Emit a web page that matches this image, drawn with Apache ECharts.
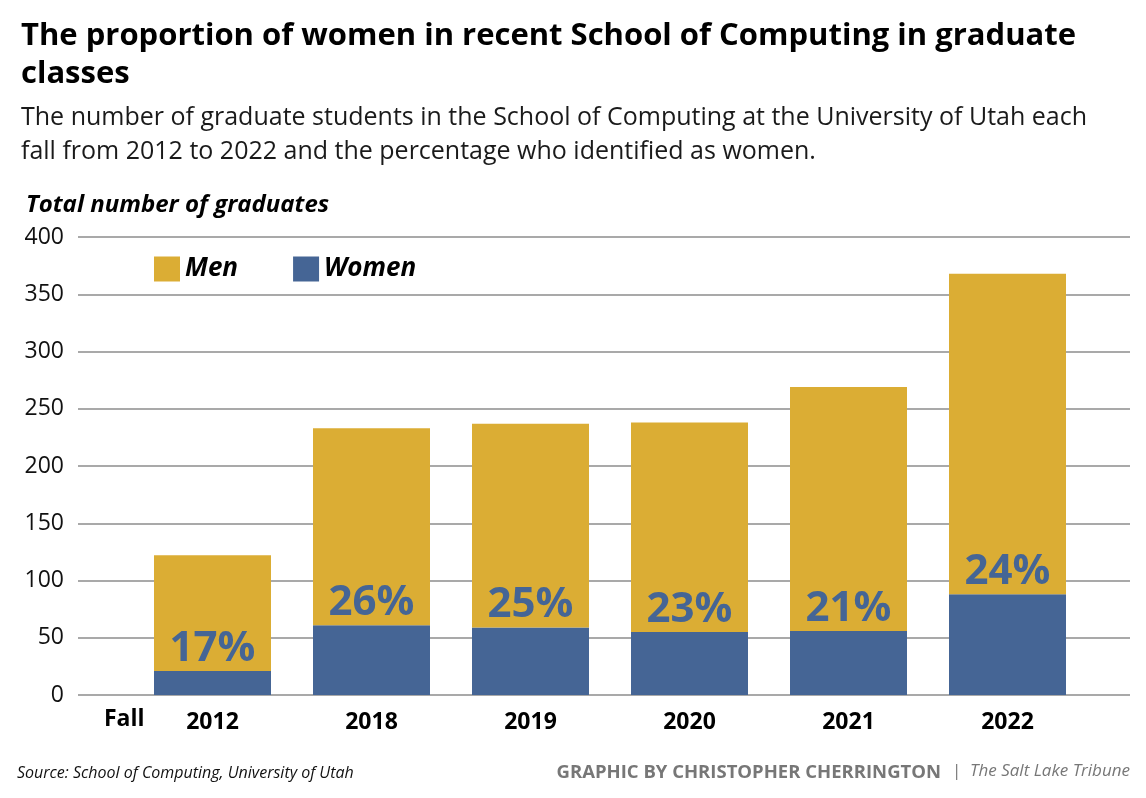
<!DOCTYPE html>
<html>
<head>
<meta charset="utf-8">
<script src="https://cdn.jsdelivr.net/npm/echarts@6/dist/echarts.min.js"></script>
<style>
html,body{margin:0;padding:0;background:#fff;}
#c{width:1146px;height:798px;}
</style>
</head>
<body>
<div id="c"></div>
<script>
const years = ['2012', '2018', '2019', '2020', '2021', '2022'];
const women = [21, 61, 59, 55, 56, 88];
const men = [101, 172, 178, 183, 213, 280];
const pctLabels = ['17%', '26%', '25%', '23%', '21%', '24%'];
const yTicks = [0, 50, 100, 150, 200, 250, 300, 350, 400];

const FONT = '"Open Sans", "Noto Sans", sans-serif';
const YELLOW = '#dbad34';
const BLUE = '#456595';

const chart = echarts.init(document.getElementById('c'), null, {renderer: 'canvas'});
chart.setOption({
  backgroundColor: '#ffffff',
  animation: false,
  title: [
    {text: 'The proportion of women in recent School of Computing in graduate\nclasses', left: 16, top: 12,
     textStyle: {fontFamily: FONT, fontSize: 31, fontWeight: 'bold', color: '#000', lineHeight: 38}},
    {text: 'The number of graduate students in the School of Computing at the University of Utah each\nfall from 2012 to 2022 and the percentage who identified as women.', left: 16, top: 96,
     textStyle: {fontFamily: FONT, fontSize: 25, fontWeight: 'normal', color: '#1a1a1a', lineHeight: 34}},
    {text: 'Total number of graduates', left: 21, top: 188,
     textStyle: {fontFamily: FONT, fontSize: 24, fontWeight: 'bold', fontStyle: 'italic', color: '#000'}}
  ],
  legend: {
    data: ['Men', 'Women'], left: 149, top: 251, itemWidth: 26, itemHeight: 25, itemGap: 55,
    icon: 'rect',
    textStyle: {fontFamily: FONT, fontSize: 26, fontWeight: 'bold', fontStyle: 'italic', color: '#000'}
  },
  grid: [
    {left: 78, right: 16, top: 237, bottom: 103},
    {left: 133, right: 59, top: 237, bottom: 103}
  ],
  xAxis: [
    {type: 'category', gridIndex: 0, data: years, show: false},
    {type: 'category', gridIndex: 1, data: years, axisLine: {show: false}, axisTick: {show: false},
     axisLabel: {fontFamily: FONT, fontSize: 23, fontWeight: 'bold', color: '#000', margin: 16}}
  ],
  yAxis: [
    {type: 'value', gridIndex: 0, min: 0, max: 400, interval: 50,
     axisLine: {show: false}, axisTick: {show: false},
     axisLabel: {fontFamily: FONT, fontSize: 23, color: '#111', margin: 14},
     splitLine: {lineStyle: {color: '#a9a9a9', width: 2}}},
    {type: 'value', gridIndex: 1, min: 0, max: 400, interval: 50, show: false, splitLine: {show: false}}
  ],
  series: [
    {name: 'Women', type: 'bar', stack: 'total', xAxisIndex: 1, yAxisIndex: 1, data: women, barWidth: 117,
     itemStyle: {color: BLUE},
     label: {show: true, position: 'top', distance: 1, formatter: p => pctLabels[p.dataIndex],
       fontFamily: FONT, fontSize: 42, fontWeight: 'bold', color: BLUE}},
    {name: 'Men', type: 'bar', stack: 'total', xAxisIndex: 1, yAxisIndex: 1, data: men, barWidth: 117,
     itemStyle: {color: YELLOW}}
  ],
  graphic: [
    {type: 'text', left: 104, top: 708, style: {text: 'Fall', fontFamily: FONT, fontSize: 23, fontWeight: 'bold', fill: '#000'}},
    {type: 'text', left: 17, top: 765, style: {text: 'Source: School of Computing, University of Utah', fontFamily: FONT, fontSize: 16, fontStyle: 'italic', fill: '#111'}},
    {type: 'text', right: 205, top: 763, style: {text: 'GRAPHIC BY CHRISTOPHER CHERRINGTON', fontFamily: FONT, fontSize: 18.5, fontWeight: 'bold', fill: '#777'}},
    {type: 'text', left: 952, top: 763, style: {text: '|', fontFamily: FONT, fontSize: 17, fill: '#777'}},
    {type: 'text', right: 16, top: 763, style: {text: 'The Salt Lake Tribune', fontFamily: FONT, fontSize: 17, fontStyle: 'italic', fill: '#777'}}
  ]
});
</script>
</body>
</html>
